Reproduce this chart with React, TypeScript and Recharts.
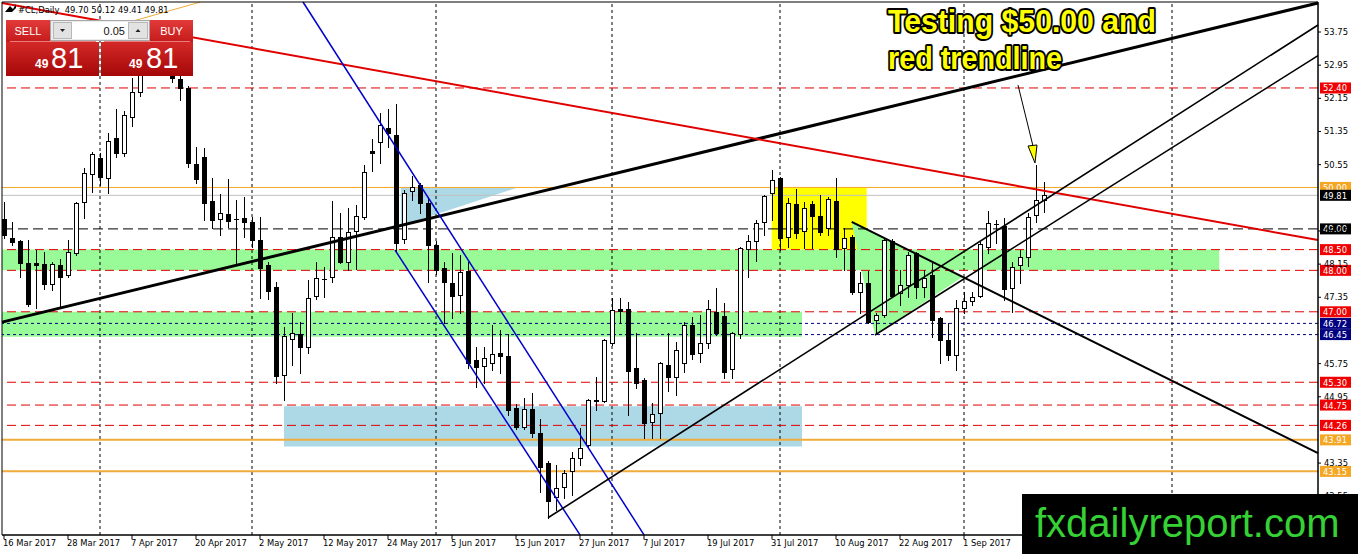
import React from "react";
import { ComposedChart, Bar, XAxis, YAxis, ReferenceLine, ReferenceArea, ReferenceDot } from "recharts";

// #CL daily, 16 Mar 2017 - 15 Sep 2017
const dates = [
  "16 Mar 2017", "17 Mar 2017", "20 Mar 2017", "21 Mar 2017", "22 Mar 2017", "23 Mar 2017", "24 Mar 2017", "27 Mar 2017", "28 Mar 2017", "29 Mar 2017", "30 Mar 2017", "31 Mar 2017",
  "3 Apr 2017", "4 Apr 2017", "5 Apr 2017", "6 Apr 2017", "7 Apr 2017", "10 Apr 2017", "11 Apr 2017", "12 Apr 2017", "13 Apr 2017", "17 Apr 2017", "18 Apr 2017", "19 Apr 2017", "20 Apr 2017", "21 Apr 2017", "24 Apr 2017", "25 Apr 2017", "26 Apr 2017", "27 Apr 2017", "28 Apr 2017",
  "1 May 2017", "2 May 2017", "3 May 2017", "4 May 2017", "5 May 2017", "8 May 2017", "9 May 2017", "10 May 2017", "11 May 2017", "12 May 2017", "15 May 2017", "16 May 2017", "17 May 2017", "18 May 2017", "19 May 2017", "22 May 2017", "23 May 2017", "24 May 2017", "25 May 2017", "26 May 2017", "29 May 2017", "30 May 2017", "31 May 2017",
  "1 Jun 2017", "2 Jun 2017", "5 Jun 2017", "6 Jun 2017", "7 Jun 2017", "8 Jun 2017", "9 Jun 2017", "12 Jun 2017", "13 Jun 2017", "14 Jun 2017", "15 Jun 2017", "16 Jun 2017", "19 Jun 2017", "20 Jun 2017", "21 Jun 2017", "22 Jun 2017", "23 Jun 2017", "26 Jun 2017", "27 Jun 2017", "28 Jun 2017", "29 Jun 2017", "30 Jun 2017",
  "3 Jul 2017", "4 Jul 2017", "5 Jul 2017", "6 Jul 2017", "7 Jul 2017", "10 Jul 2017", "11 Jul 2017", "12 Jul 2017", "13 Jul 2017", "14 Jul 2017", "17 Jul 2017", "18 Jul 2017", "19 Jul 2017", "20 Jul 2017", "21 Jul 2017", "24 Jul 2017", "25 Jul 2017", "26 Jul 2017", "27 Jul 2017", "28 Jul 2017", "31 Jul 2017",
  "1 Aug 2017", "2 Aug 2017", "3 Aug 2017", "4 Aug 2017", "7 Aug 2017", "8 Aug 2017", "9 Aug 2017", "10 Aug 2017", "11 Aug 2017", "14 Aug 2017", "15 Aug 2017", "16 Aug 2017", "17 Aug 2017", "18 Aug 2017", "21 Aug 2017", "22 Aug 2017", "23 Aug 2017", "24 Aug 2017", "25 Aug 2017", "28 Aug 2017", "29 Aug 2017", "30 Aug 2017", "31 Aug 2017",
  "1 Sep 2017", "4 Sep 2017", "5 Sep 2017", "6 Sep 2017", "7 Sep 2017", "8 Sep 2017", "11 Sep 2017", "12 Sep 2017", "13 Sep 2017", "14 Sep 2017", "15 Sep 2017",
];

const opens = [
  49.25, 48.78, 48.70, 48.17, 48.17, 48.16, 47.67, 48.12, 47.89, 48.42,
  49.65, 50.33, 50.71, 50.23, 51.19, 50.83, 51.70, 52.30, 53.10, 53.40,
  53.10, 53.20, 52.62, 52.40, 50.57, 50.74, 49.67, 49.24, 49.36, 49.25,
  49.26, 49.17, 48.73, 48.13, 47.60, 45.48, 46.35, 46.46, 46.15, 47.38,
  47.79, 47.84, 48.80, 48.20, 48.95, 49.29, 50.87, 51.10, 51.43, 51.26,
  48.76, 49.91, 50.06, 49.62, 48.61, 48.06, 47.70, 47.41, 47.99, 45.84,
  45.69, 45.76, 46.00, 45.93, 44.68, 44.22, 44.66, 44.08, 43.35, 42.53,
  42.77, 43.16, 43.47, 43.79, 44.88, 44.85, 46.25, 47.07, 47.07, 45.64,
  45.35, 44.34, 44.56, 45.72, 45.43, 45.77, 46.68, 46.01, 46.25, 47.00,
  46.90, 45.62, 46.47, 48.51, 48.71, 49.17, 49.87, 50.23, 48.80, 49.60,
  48.95, 49.60, 49.31, 49.02, 49.68, 48.54, 48.80, 47.48, 47.69, 46.80,
  46.92, 48.71, 47.45, 47.65, 48.42, 47.60, 47.89, 46.85, 46.32, 45.96,
  47.09, 47.26, 47.38, 48.56, 49.12, 49.07, 47.57, 48.13, 48.32, 49.34, 49.70,
];
const highs = [
  49.65, 49.17, 48.73, 48.73, 48.49, 48.44, 48.20, 48.28, 48.73, 49.65,
  50.47, 50.86, 50.83, 51.31, 51.89, 51.85, 52.63, 53.15, 53.70, 53.76,
  53.35, 53.30, 52.90, 52.45, 50.97, 50.95, 50.23, 49.84, 50.20, 49.70,
  49.77, 49.29, 49.29, 48.20, 47.72, 46.63, 46.97, 46.75, 47.77, 48.20,
  48.08, 49.67, 49.38, 49.50, 49.58, 50.54, 51.18, 51.80, 51.89, 52.01,
  49.94, 50.28, 50.11, 49.77, 48.70, 48.20, 48.42, 48.37, 48.20, 46.15,
  46.15, 46.68, 46.56, 46.46, 44.78, 44.92, 45.04, 44.41, 43.40, 43.30,
  43.18, 43.62, 44.20, 44.90, 45.43, 46.35, 47.33, 47.33, 47.24, 46.49,
  45.40, 44.80, 45.79, 46.49, 46.27, 46.75, 46.87, 46.92, 47.28, 47.57,
  47.21, 46.52, 48.56, 48.85, 49.21, 49.82, 50.42, 50.25, 49.75, 49.96,
  49.65, 49.67, 49.82, 49.77, 50.23, 49.02, 48.85, 47.96, 47.99, 46.97,
  48.76, 48.76, 48.01, 48.44, 48.44, 48.01, 48.18, 46.88, 46.73, 47.28,
  47.48, 47.48, 48.68, 49.43, 49.21, 49.26, 48.20, 48.49, 49.38, 50.54, 50.12,
];
const lows = [
  48.78, 48.61, 47.85, 47.15, 47.09, 47.55, 47.52, 47.09, 47.85, 48.38,
  49.26, 49.90, 50.06, 49.87, 50.73, 50.76, 51.48, 52.20, 52.75, 52.95,
  52.85, 52.55, 52.11, 50.50, 50.11, 49.21, 49.02, 48.85, 49.05, 48.18,
  48.80, 48.56, 47.33, 47.31, 45.28, 44.87, 45.72, 45.52, 46.01, 47.31,
  47.36, 47.72, 48.18, 48.00, 48.03, 49.25, 50.40, 50.59, 50.98, 48.44,
  48.66, 49.70, 49.38, 47.72, 47.90, 46.73, 46.85, 46.97, 45.64, 45.19,
  45.28, 45.60, 45.52, 44.51, 44.18, 44.18, 43.98, 42.65, 42.02, 42.22,
  42.51, 42.58, 43.30, 43.75, 44.63, 44.82, 46.20, 46.73, 44.51, 45.16,
  43.96, 43.96, 43.96, 45.09, 44.99, 45.55, 45.86, 45.79, 46.13, 46.44,
  45.40, 45.40, 46.37, 47.84, 48.23, 48.85, 49.21, 48.49, 48.56, 48.78,
  48.54, 48.54, 48.85, 48.85, 48.32, 48.01, 47.43, 46.97, 46.73, 46.49,
  46.87, 47.36, 47.16, 47.36, 47.33, 47.36, 46.39, 45.77, 45.84, 45.60,
  46.97, 47.16, 47.36, 48.42, 48.66, 47.28, 46.99, 47.69, 48.11, 49.16, 49.41,
];
const closes = [
  48.85, 48.68, 48.17, 47.19, 48.12, 47.67, 48.16, 47.84, 48.44, 49.62,
  50.35, 50.81, 50.25, 51.12, 50.83, 51.75, 52.30, 53.08, 53.40, 53.11,
  53.18, 52.65, 52.40, 50.59, 50.20, 49.63, 49.21, 49.38, 49.19, 49.24,
  49.17, 48.73, 48.06, 47.50, 45.45, 46.42, 46.49, 46.15, 47.33, 47.82,
  47.80, 48.80, 48.20, 48.93, 49.31, 50.37, 50.83, 51.51, 51.31, 48.66,
  49.87, 50.01, 49.62, 48.61, 48.01, 47.72, 47.38, 47.96, 45.76, 45.67,
  45.88, 45.98, 45.93, 44.63, 44.22, 44.66, 44.08, 43.26, 42.44, 42.75,
  43.11, 43.47, 43.71, 44.87, 44.85, 46.32, 47.04, 47.03, 45.57, 45.28,
  44.32, 44.54, 45.77, 45.43, 46.08, 46.68, 45.98, 46.25, 47.07, 46.49,
  45.55, 46.49, 48.54, 48.71, 49.14, 49.79, 50.18, 48.78, 49.62, 48.90,
  49.50, 49.31, 48.92, 49.72, 48.52, 48.78, 47.48, 47.69, 46.75, 46.92,
  48.73, 47.38, 47.65, 48.37, 47.60, 47.82, 46.80, 46.32, 45.96, 47.09,
  47.26, 47.36, 48.64, 49.14, 49.13, 47.55, 48.08, 48.32, 49.29, 49.70, 49.81,
];

const xTicks = [0, 8, 16, 24, 32, 40, 48, 56, 64, 72, 80, 88, 96, 104, 112, 120];
const yTicks = [53.75, 52.95, 52.15, 51.35, 50.55, 48.95, 48.15, 47.35, 45.75, 44.95, 43.35, 42.55];
const monthSeparators = [12, 31, 54, 76, 97, 120, 146];

const redLevels = [52.4, 48.5, 48.0, 47.0, 45.3, 44.75, 44.26];
const orangeLevels = [50.0, 43.91, 43.15];
const navyLevels = [46.72, 46.45];
const pivotLevel = 49.0;

const X_DOMAIN: [number, number] = [-0.25, 164.25];
const Y_DOMAIN: [number, number] = [41.615, 54.474];

// zones: [x1, x2, low, high]
const greenZones = [
  [-0.25, 151.9, 48.0, 48.5],
  [-0.25, 99.75, 46.4, 47.0],
];
const blueZone = [35, 99.75, 43.75, 44.72];
const yellowZone = [95.96, 107.84, 48.5, 50.0];
const blueWedge = [[49.6, 50.0], [64.25, 50.0], [49.6, 49.07]];
const greenWedge = [[105.96, 49.17], [119.9, 47.85], [108.875, 46.44]];

// trendlines: [[bar, price], [bar, price]]
const longSupport = [[-0.25, 46.75], [164.25, 54.45]];
const redTrend = [[-0.25, 54.45], [164.25, 48.73]];
const fiboStub = [[12, 53.79], [24.5, 54.47]];
const channelTop = [[37.375, 54.474], [80, 41.62]];
const channelBottom = [[48.875, 48.49], [72, 41.62]];
const riseA = [[68, 42.03], [164.25, 53.92]];
const riseB = [[108.875, 46.44], [164.25, 53.18]];
const fallLine = [[105.96, 49.17], [164.25, 43.59]];
const arrowShaft = [[126.75, 52.47], [128.75, 50.9]];
const arrowTip = [128.875, 50.59];

const data = dates.map((date, i) => ({
  i,
  date,
  open: opens[i],
  high: highs[i],
  low: lows[i],
  close: closes[i],
}));

const seg = (s: number[][]) => [{ x: s[0][0], y: s[0][1] }, { x: s[1][0], y: s[1][1] }];

const TICK_FONT = "DejaVu Sans";

function Candle(props: any) {
  const { x, y, width, height, payload } = props;
  if (!payload) return null;
  const top = Math.min(y, y + height);
  const h = Math.abs(height);
  const { open, high, low, close } = payload;
  const range = high - low || 1;
  const py = (v: number) => top + ((high - v) / range) * h;
  const cx = Math.round(x + width / 2) + 0.5;
  const yo = py(open);
  const yc = py(close);
  const bt = Math.round(Math.min(yo, yc)) + 0.5;
  const bb = Math.round(Math.max(yo, yc)) + 0.5;
  return (
    <g>
      <line x1={cx} x2={cx} y1={Math.round(top)} y2={Math.round(top + h) + 1} stroke="#000" />
      {bb - bt < 1 ? (
        <line x1={cx - 2.5} x2={cx + 2.5} y1={bt} y2={bt} stroke="#000" />
      ) : (
        <rect x={cx - 2} y={bt} width={4} height={bb - bt} fill={close >= open ? "#fff" : "#000"} stroke="#000" />
      )}
    </g>
  );
}

function XTick(props: any) {
  const { x, y, payload } = props;
  const label = dates[payload.value];
  if (!label) return null;
  return (
    <text x={x - 1} y={y + 7} fontSize={8.4} fontFamily={TICK_FONT} fill="#000">
      {label}
    </text>
  );
}

const priceTag = (bg: string, value: number) => (p: any) => {
  const vb = p.viewBox;
  if (!vb) return null;
  const x = vb.x + vb.width + 2;
  const y = vb.y;
  return (
    <g>
      <rect x={x} y={y - 5.5} width={31} height={11} fill={bg} />
      <text x={x + 3} y={y + 3.5} fontSize={8.4} fontFamily={TICK_FONT} fill="#fff">
        {value.toFixed(2)}
      </text>
    </g>
  );
};

const polygonShape = (pts: number[][], fill: string) => (p: any) => {
  const xs = pts.map((v) => v[0]);
  const ys = pts.map((v) => v[1]);
  const x1 = Math.min(...xs);
  const x2 = Math.max(...xs);
  const y1 = Math.min(...ys);
  const y2 = Math.max(...ys);
  const points = pts
    .map(([vx, vy]) => `${p.x + ((vx - x1) / (x2 - x1)) * p.width},${p.y + ((y2 - vy) / (y2 - y1)) * p.height}`)
    .join(" ");
  return <polygon points={points} fill={fill} />;
};

const bbox = (pts: number[][]) => ({
  x1: Math.min(...pts.map((v) => v[0])),
  x2: Math.max(...pts.map((v) => v[0])),
  y1: Math.min(...pts.map((v) => v[1])),
  y2: Math.max(...pts.map((v) => v[1])),
});

function Overlay() {
  const n = closes.length - 1;
  const last = closes[n].toFixed(2);
  const [big, small] = last.split(".");
  const header = `#CL,Daily  ${opens[n].toFixed(2)} ${highs[n].toFixed(2)} ${lows[n].toFixed(2)} ${closes[n].toFixed(2)}`;
  const txt = { fontFamily: "Liberation Sans, Arial, sans-serif" };
  return (
    <svg width={1358} height={554} style={{ position: "absolute", left: 0, top: 0, pointerEvents: "none" }}>
      <defs>
        <linearGradient id="btnRed" x1="0" y1="0" x2="0" y2="1">
          <stop offset="0" stopColor="#e23a3a" />
          <stop offset="1" stopColor="#c51a1a" />
        </linearGradient>
        <linearGradient id="bigRed" x1="0" y1="0" x2="0" y2="1">
          <stop offset="0" stopColor="#d42828" />
          <stop offset="1" stopColor="#a50808" />
        </linearGradient>
      </defs>
      {/* header */}
      <polygon points="5,12 10,6 13,9 16,4 16,8 12,12" fill="#000" />
      <text x={18} y={12.5} fontSize={8.4} fontFamily={TICK_FONT} fill="#000" style={{ whiteSpace: "pre" }}>
        {header}
      </text>
      {/* one click trading panel */}
      <rect x={6} y={20} width={44} height={22} fill="url(#btnRed)" />
      <rect x={150} y={20} width={43} height={22} fill="url(#btnRed)" />
      <rect x={50.5} y={20.5} width={99} height={20} fill="#ececec" stroke="#a8a8a8" />
      <rect x={53.5} y={22.5} width={18} height={16} fill="#e2e2e2" stroke="#b8b8b8" />
      <polygon points="60,29 65,29 62.5,32" fill="#222" />
      <rect x={72} y={22} width={56} height={17} fill="#fff" />
      <rect x={128.5} y={22.5} width={19} height={16} fill="#e2e2e2" stroke="#b8b8b8" />
      <polygon points="135.5,32 140.5,32 138,29" fill="#222" />
      <text x={125} y={34.5} fontSize={11} textAnchor="end" fill="#111" {...txt}>0.05</text>
      <text x={28} y={35} fontSize={11} textAnchor="middle" fill="#fff" {...txt}>SELL</text>
      <text x={171.5} y={35} fontSize={11} textAnchor="middle" fill="#fff" {...txt}>BUY</text>
      <rect x={6} y={42} width={93} height={34} fill="url(#bigRed)" />
      <rect x={101} y={42} width={92} height={34} fill="url(#bigRed)" />
      <line x1={10} x2={96} y1={41.5} y2={41.5} stroke="#ec7d7d" />
      <line x1={104} x2={190} y1={41.5} y2={41.5} stroke="#ec7d7d" />
      <text x={35} y={68} fontSize={12} fontWeight="bold" fill="#fff" {...txt}>{big}</text>
      <text x={51} y={68} fontSize={29} fill="#fff" {...txt}>{small}</text>
      <text x={129} y={68} fontSize={12} fontWeight="bold" fill="#fff" {...txt}>{big}</text>
      <text x={146} y={68} fontSize={29} fill="#fff" {...txt}>{small}</text>
      {/* comment */}
      <g fontSize={32} fontWeight="bold" fill="#ffff00" stroke="#000" strokeWidth={4} strokeLinejoin="round" style={{ paintOrder: "stroke" }} {...txt}>
        <text x={888} y={32} textLength={268} lengthAdjust="spacingAndGlyphs">Testing $50.00 and</text>
        <text x={888} y={69} textLength={174} lengthAdjust="spacingAndGlyphs">red trendline</text>
      </g>
      {/* watermark */}
      <rect x={1022} y={494} width={336} height={60} fill="#000" />
      <text x={1035} y={537} fontSize={40} fill="#35d135" {...txt}>fxdailyreport.com</text>
    </svg>
  );
}

export default function App() {
  return (
    <div style={{ position: "absolute", left: 0, top: 0, width: 1358, height: 554, background: "#fff" }}>
      <ComposedChart width={1358} height={554} data={data} margin={{ top: 2, right: 0, bottom: 0, left: 2 }}>
        <XAxis
          dataKey="i"
          type="number"
          domain={X_DOMAIN}
          allowDataOverflow
          ticks={xTicks}
          interval={0}
          tick={<XTick />}
          tickSize={4}
          tickMargin={0}
          tickLine={{ stroke: "#000" }}
          axisLine={{ stroke: "#000" }}
          height={19}
        />
        <YAxis
          type="number"
          orientation="right"
          domain={Y_DOMAIN}
          allowDataOverflow
          ticks={yTicks}
          interval={0}
          width={40}
          tickSize={3}
          tickMargin={3}
          tickFormatter={(v: number) => v.toFixed(2)}
          tick={{ fontSize: 8.4, fontFamily: TICK_FONT, fill: "#000" }}
          tickLine={{ stroke: "#000" }}
          axisLine={{ stroke: "#000" }}
        />

        {greenZones.map((z, k) => (
          <ReferenceArea key={"g" + k} x1={z[0]} x2={z[1]} y1={z[2]} y2={z[3]} fill="#98fb98" fillOpacity={1} ifOverflow="visible" zIndex={50} />
        ))}
        <ReferenceArea x1={blueZone[0]} x2={blueZone[1]} y1={blueZone[2]} y2={blueZone[3]} fill="#add8e6" fillOpacity={1} ifOverflow="visible" zIndex={50} />
        <ReferenceArea x1={yellowZone[0]} x2={yellowZone[1]} y1={yellowZone[2]} y2={yellowZone[3]} fill="#ffff00" fillOpacity={1} ifOverflow="visible" zIndex={50} />
        <ReferenceArea {...bbox(blueWedge)} ifOverflow="visible" shape={polygonShape(blueWedge, "#add8e6")} zIndex={50} />
        <ReferenceArea {...bbox(greenWedge)} ifOverflow="visible" shape={polygonShape(greenWedge, "#98fb98")} zIndex={50} />

        {monthSeparators.map((m) => (
          <ReferenceLine key={"m" + m} x={m} stroke="#000" strokeDasharray="3 3" ifOverflow="visible" zIndex={60} />
        ))}

        {redLevels.map((v) => (
          <ReferenceLine key={"r" + v} y={v} stroke="#e00000" strokeDasharray="9 5" ifOverflow="visible" label={priceTag("#f00000", v)} zIndex={100} />
        ))}
        {navyLevels.map((v) => (
          <ReferenceLine key={"n" + v} y={v} stroke="#000080" strokeDasharray="3 3" ifOverflow="visible" label={priceTag("#000080", v)} zIndex={100} />
        ))}
        <ReferenceLine y={pivotLevel} stroke="#000" strokeDasharray="10 5" ifOverflow="visible" label={priceTag("#000", pivotLevel)} zIndex={100} />
        <ReferenceLine y={orangeLevels[0]} stroke="#f5a623" strokeWidth={1} ifOverflow="visible" label={priceTag("#f5a623", orangeLevels[0])} zIndex={100} />
        {orangeLevels.slice(1).map((v) => (
          <ReferenceLine key={"o" + v} y={v} stroke="#f0ad3a" strokeWidth={2} ifOverflow="visible" label={priceTag("#f5a623", v)} zIndex={100} />
        ))}
        <ReferenceLine y={closes[closes.length - 1]} stroke="#c0c0c0" ifOverflow="visible" label={priceTag("#000", closes[closes.length - 1])} zIndex={100} />

        <Bar dataKey={(d: any) => [d.low, d.high]} shape={Candle} barSize={5} isAnimationActive={false} zIndex={300} />

        <ReferenceLine segment={seg(longSupport)} stroke="#000" strokeWidth={3} ifOverflow="visible" zIndex={400} />
        <ReferenceLine segment={seg(redTrend)} stroke="#e00000" strokeWidth={2} ifOverflow="visible" zIndex={400} />
        <ReferenceLine segment={seg(fiboStub)} stroke="#f0ad3a" strokeWidth={1} ifOverflow="visible" zIndex={400} />
        <ReferenceLine segment={seg(channelTop)} stroke="#0000cc" strokeWidth={1.5} ifOverflow="visible" zIndex={400} />
        <ReferenceLine segment={seg(channelBottom)} stroke="#0000cc" strokeWidth={1.5} ifOverflow="visible" zIndex={400} />
        <ReferenceLine segment={seg(riseA)} stroke="#000" strokeWidth={1.6} ifOverflow="visible" zIndex={400} />
        <ReferenceLine segment={seg(riseB)} stroke="#000" strokeWidth={1.6} ifOverflow="visible" zIndex={400} />
        <ReferenceLine segment={seg(fallLine)} stroke="#000" strokeWidth={2} ifOverflow="visible" zIndex={400} />
        <ReferenceLine segment={seg(arrowShaft)} stroke="#000" strokeWidth={1} ifOverflow="visible" zIndex={400} />
        <ReferenceDot
          x={arrowTip[0]}
          y={arrowTip[1]}
          r={1}
          ifOverflow="visible"
          zIndex={410}
          shape={(p: any) => (
            <polygon points={`${p.cx - 7},${p.cy - 17} ${p.cx + 2},${p.cy - 18} ${p.cx},${p.cy}`} fill="#ffff00" stroke="#000" />
          )}
        />
        <ReferenceArea x1={X_DOMAIN[0]} x2={X_DOMAIN[1]} y1={Y_DOMAIN[0]} y2={Y_DOMAIN[1]} fill="none" stroke="#000" ifOverflow="visible" zIndex={450} />
      </ComposedChart>
      <Overlay />
    </div>
  );
}
